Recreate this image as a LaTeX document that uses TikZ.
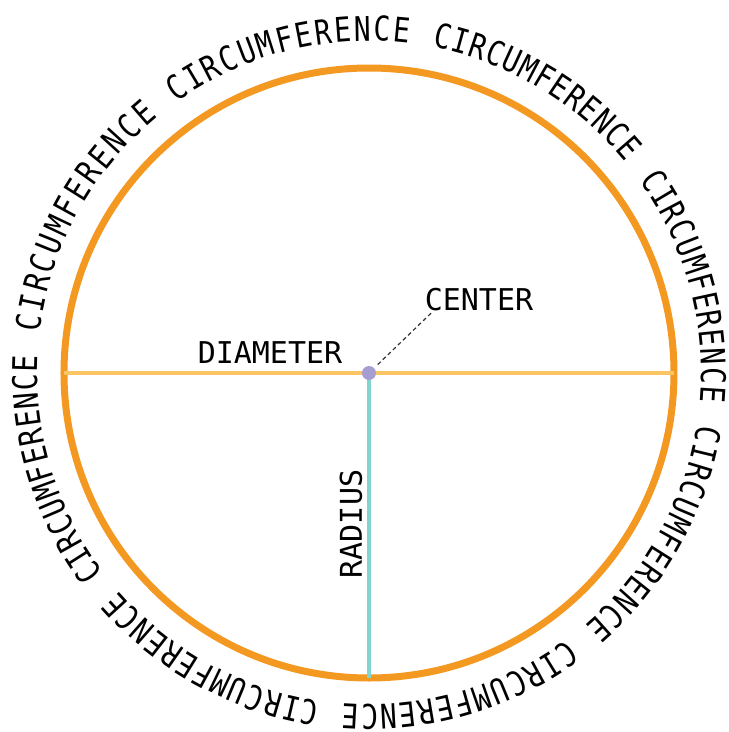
\documentclass[tikz,border=0pt]{standalone}
\usepackage{fontspec}
\usetikzlibrary{decorations.text}

\newfontfamily\diagfont{DejaVu Sans Mono}
\newfontfamily\rimface[FakeStretch=0.82]{DejaVu Sans Mono}
\definecolor{rimorange}{RGB}{243,152,33}
\definecolor{diamyellow}{RGB}{250,197,98}
\definecolor{radteal}{RGB}{128,214,207}
\definecolor{dotlilac}{RGB}{166,157,210}
\newcommand\rimfont{\rimface\fontsize{34pt}{40pt}\selectfont}

\tikzset{
  lbl/.style={font=\diagfont\fontsize{30pt}{36pt}\selectfont, inner sep=2pt},
  rimword/.style={decorate, decoration={text along path,
      text={|\rimfont|CIRCUMFERENCE}, text align=fit to path}},
}

\begin{document}
\begin{tikzpicture}[x=1pt, y=1pt]
  \useasboundingbox (-369,-359) rectangle (360,373);

  % Circle
  \coordinate (o) at (0,0);
  \coordinate (diamL) at (-305,0);
  \coordinate (diamR) at (305,0);
  \coordinate (radEnd) at (0,-305);
  \draw[rimorange, line width=7pt] (o) circle[radius=305];

  % Diameter and radius
  \draw[diamyellow, line width=4pt] (diamL) -- (diamR);
  \draw[radteal, line width=4pt] (o) -- (radEnd);
  \node[circle, fill=dotlilac, minimum size=14pt, inner sep=0pt] (ctr) at (o) {};

  % Labels
  \node[lbl, anchor=base] (diam) at (-99,10) {DIAMETER};
  \node[lbl, anchor=base] (cntr) at (110,63) {CENTER};
  \node[lbl, anchor=base, rotate=90] (rad) at (-7,-151) {RADIUS};
  \draw[black!80, line width=1.2pt, dash pattern=on 4pt off 3pt, shorten <=5pt]
    (ctr) -- ([xshift=9pt]cntr.south west);

  % Words round the rim
  \foreach \a/\b in {127.5/81, 81/37.5, 37.5/-7, -7/-51.5, -51.5/-96.5,
                     -96.5/-141, 219/175, 175/127.5} {
    \pgfmathsetmacro\sa{\a-2}
    \pgfmathsetmacro\ea{\b+2}
    \path[rimword] (\sa:332) arc[start angle=\sa, end angle=\ea, radius=332];
  }
\end{tikzpicture}
\end{document}
